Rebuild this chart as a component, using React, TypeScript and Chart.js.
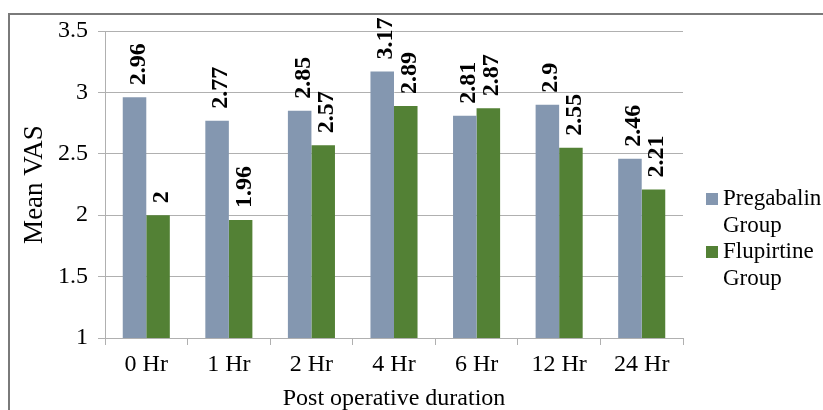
import React, { useEffect, useRef } from "react";
import { Chart, registerables } from "chart.js";

Chart.register(...registerables);

const categories = ["0 Hr", "1 Hr", "2 Hr", "4 Hr", "6 Hr", "12 Hr", "24 Hr"];
const pregabalin = [2.96, 2.77, 2.85, 3.17, 2.81, 2.9, 2.46];
const flupirtine = [2, 1.96, 2.57, 2.89, 2.87, 2.55, 2.21];
const seriesNames = [["Pregabalin", "Group"], ["Flupirtine", "Group"]];
const seriesColors = ["#8497B0", "#538135"];
const yTitle = "Mean VAS";
const xTitle = "Post operative duration";

const FONT = '"Liberation Serif", "Times New Roman", serif';

const framePlugin = {
  id: "frame",
  beforeDraw(chart: any) {
    const ctx = chart.ctx;
    ctx.save();
    ctx.fillStyle = "#ffffff";
    ctx.fillRect(0, 0, chart.width, chart.height);
    ctx.fillStyle = "#7a7a7a";
    ctx.fillRect(8, 13, chart.width - 8, 2);
    ctx.fillRect(8, 13, 2, chart.height - 13);
    ctx.restore();
  },
};

const labelPlugin = {
  id: "barLabels",
  afterDatasetsDraw(chart: any) {
    const ctx = chart.ctx;
    ctx.save();
    ctx.font = `bold 24px ${FONT}`;
    ctx.fillStyle = "#000";
    ctx.textAlign = "left";
    ctx.textBaseline = "alphabetic";
    chart.data.datasets.forEach((ds: any, di: number) => {
      const meta = chart.getDatasetMeta(di);
      meta.data.forEach((bar: any, i: number) => {
        const text = String(ds.data[i]);
        ctx.save();
        ctx.translate(bar.x + 10, bar.y - 12);
        ctx.rotate(-Math.PI / 2);
        ctx.fillText(text, 0, 0);
        ctx.restore();
      });
    });
    ctx.restore();
  },
};

const legendPlugin = {
  id: "customLegend",
  afterDraw(chart: any) {
    const ctx = chart.ctx;
    ctx.save();
    ctx.font = `23px ${FONT}`;
    ctx.textAlign = "left";
    ctx.textBaseline = "middle";
    const x0 = 706;
    const starts = [199, 252];
    const lh = 27;
    seriesNames.forEach((lines, si) => {
      const y = starts[si];
      ctx.fillStyle = seriesColors[si];
      ctx.fillRect(x0, y - 6, 12, 12);
      ctx.fillStyle = "#000";
      lines.forEach((ln, li) => {
        ctx.fillText(ln, x0 + 17, y + li * lh);
      });
    });
    ctx.restore();
  },
};

export default function App() {
  const ref = useRef<HTMLCanvasElement | null>(null);
  useEffect(() => {
    if (!ref.current) return;
    const chart = new Chart(ref.current, {
      type: "bar",
      data: {
        labels: categories,
        datasets: [
          { label: "Pregabalin Group", data: pregabalin, backgroundColor: seriesColors[0], categoryPercentage: 0.57, barPercentage: 1 },
          { label: "Flupirtine Group", data: flupirtine, backgroundColor: seriesColors[1], categoryPercentage: 0.57, barPercentage: 1 },
        ],
      },
      options: {
        animation: false,
        responsive: false,
        maintainAspectRatio: false,
        layout: { padding: { left: 0, top: 31, right: 140, bottom: 0 } },
        plugins: { legend: { display: false }, tooltip: { enabled: false } },
        scales: {
          x: {
            grid: { offset: true, drawOnChartArea: false, drawTicks: true, tickLength: 7, color: "#b0b0b0" },
            border: { color: "#b0b0b0", width: 1 },
            ticks: { color: "#000", font: { family: FONT, size: 24 }, padding: 5 },
            title: { display: true, text: xTitle, color: "#000", font: { family: FONT, size: 24, lineHeight: 0.9 }, padding: 0 },
            afterFit(scale: any) { scale.height = 72; },
          },
          y: {
            min: 1,
            max: 3.5,
            ticks: {
              stepSize: 0.5,
              color: "#000",
              font: { family: FONT, size: 24 },
              padding: 10,
              callback: (v: any) => String(Number(v)),
            },
            grid: { color: "#b0b0b0", tickLength: 7 },
            border: { color: "#b0b0b0", width: 1 },
            title: { display: true, text: yTitle, color: "#000", font: { family: FONT, size: 27, lineHeight: 1.2 }, padding: { top: 19, bottom: 0 } },
            afterFit(scale: any) { scale.width = 105; },
          },
        },
      },
      plugins: [framePlugin, labelPlugin, legendPlugin],
    });
    return () => chart.destroy();
  }, []);
  return (
    <div style={{ position: "fixed", left: 0, top: 0, width: 823, height: 410, overflow: "hidden" }}>
      <canvas ref={ref} width={823} height={410} style={{ display: "block", width: 823, height: 410 }} />
    </div>
  );
}
